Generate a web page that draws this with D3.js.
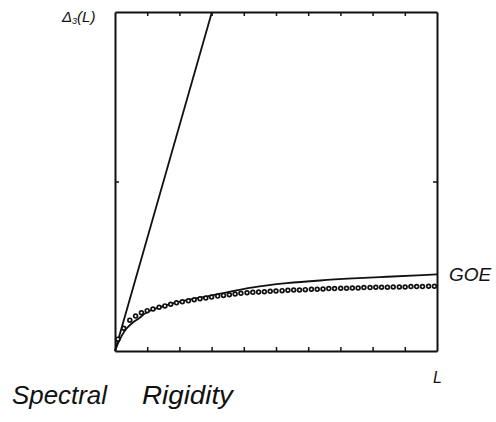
<!DOCTYPE html>
<html>
<head>
<meta charset="utf-8">
<script src="https://cdn.jsdelivr.net/npm/d3@7"></script>
<style>
  body { margin: 0; background: #fff; }
  text { font-family: "Liberation Sans", "DejaVu Sans", sans-serif; font-style: italic; fill: #111; }
</style>
</head>
<body>
<script>
var w = 496
var h = 422

// x ticks (unlabelled) and y tick
var xTicks = [1, 2, 3, 4, 5, 6, 7, 8, 9]
var yTicks = [0.5]

// Poisson straight line
var poissonL = [0, 3.01]
var poissonD = [0, 1]

// GOE solid curve
var goeL = [0, 0.115, 0.32, 0.53, 0.74, 0.94, 1.46, 1.98, 2.49, 3.01, 3.5, 4.29, 5.34, 6.37, 7.39, 8.45, 10]
var goeD = [0, 0.027, 0.062, 0.082, 0.096, 0.111, 0.131, 0.145, 0.155, 0.164, 0.174, 0.188, 0.200, 0.208, 0.214, 0.219, 0.226]

// data points (dots)
var dotL = [0.09, 0.27, 0.46, 0.64, 0.82, 1.00, 1.18, 1.37, 1.55, 1.73, 1.91, 2.09, 2.28, 2.46, 2.64, 2.82,
            3.00, 3.19, 3.37, 3.55, 3.73, 3.91, 4.10, 4.28, 4.46, 4.64, 4.82, 5.00, 5.19, 5.37, 5.55, 5.73,
            5.91, 6.10, 6.28, 6.46, 6.64, 6.82, 7.01, 7.19, 7.37, 7.55, 7.73, 7.92, 8.10, 8.28, 8.46, 8.64,
            8.83, 9.01, 9.19, 9.37, 9.55, 9.74, 9.92]
var dotD = [0.035, 0.067, 0.091, 0.103, 0.113, 0.119, 0.124, 0.129, 0.133, 0.138, 0.142, 0.145, 0.148, 0.151, 0.154, 0.156,
            0.159, 0.162, 0.164, 0.166, 0.168, 0.170, 0.172, 0.173, 0.174, 0.175, 0.176, 0.177, 0.178, 0.179, 0.180, 0.180,
            0.181, 0.182, 0.182, 0.183, 0.184, 0.184, 0.185, 0.185, 0.186, 0.186, 0.187, 0.187, 0.188, 0.188, 0.188, 0.189,
            0.189, 0.189, 0.190, 0.190, 0.190, 0.191, 0.191]

var plotLeft = 115, plotTop = 12, pw = 322, ph = 339

var svg = d3.select("body")
            .append("svg")
            .attr("width", w)
            .attr("height", h)

var x = d3.scaleLinear().domain([0, 10]).range([plotLeft, plotLeft + pw])
var y = d3.scaleLinear().domain([0, 1]).range([plotTop + ph, plotTop])

// frame: four axes with inward ticks, no labels
function styleAxis(g) {
  g.selectAll("path").attr("stroke", "#111").attr("stroke-width", 2)
  g.selectAll("line").attr("stroke", "#111").attr("stroke-width", 1.5)
  g.selectAll("text").remove()
}

svg.append("g")
  .attr("transform", "translate(0," + (plotTop + ph) + ")")
  .call(d3.axisBottom(x).tickValues(xTicks).tickSize(-4).tickSizeOuter(0).tickFormat(""))
  .call(styleAxis)

svg.append("g")
  .attr("transform", "translate(0," + plotTop + ")")
  .call(d3.axisTop(x).tickValues(xTicks).tickSize(-4).tickSizeOuter(0).tickFormat(""))
  .call(styleAxis)

svg.append("g")
  .attr("transform", "translate(" + plotLeft + ",0)")
  .call(d3.axisLeft(y).tickValues(yTicks).tickSize(-4).tickSizeOuter(0).tickFormat(""))
  .call(styleAxis)

svg.append("g")
  .attr("transform", "translate(" + (plotLeft + pw) + ",0)")
  .call(d3.axisRight(y).tickValues(yTicks).tickSize(-4).tickSizeOuter(0).tickFormat(""))
  .call(styleAxis)

var line = d3.line()
  .x(function(d) { return x(d[0]) })
  .y(function(d) { return y(d[1]) })

svg.append("path")
  .datum(d3.zip(poissonL, poissonD))
  .attr("d", line)
  .attr("fill", "none")
  .attr("stroke", "#111")
  .attr("stroke-width", 1.8)

svg.append("path")
  .datum(d3.zip(goeL, goeD))
  .attr("d", line.curve(d3.curveMonotoneX))
  .attr("fill", "none")
  .attr("stroke", "#111")
  .attr("stroke-width", 1.8)

svg.selectAll("circle")
  .data(d3.zip(dotL, dotD))
  .enter().append("circle")
  .attr("cx", function(d) { return x(d[0]) })
  .attr("cy", function(d) { return y(d[1]) })
  .attr("r", 1.9)
  .attr("fill", "#fff")
  .attr("stroke", "#111")
  .attr("stroke-width", 1.7)

// labels
var yl = svg.append("text")
  .attr("x", 62)
  .attr("y", 22)
  .attr("font-size", "15px")
yl.append("tspan").text("Δ")
yl.append("tspan").text("3").attr("font-size", "9px").attr("dy", 2)
yl.append("tspan").text("(L)").attr("dy", -2)

svg.append("text")
  .text("GOE")
  .attr("x", 449)
  .attr("y", 281)
  .attr("font-size", "19px")

svg.append("text")
  .text("L")
  .attr("x", 433)
  .attr("y", 383)
  .attr("font-size", "16px")

svg.append("text")
  .text("Spectral")
  .attr("x", 12)
  .attr("y", 404)
  .attr("font-size", "26px")
  .attr("textLength", 95)
  .attr("lengthAdjust", "spacingAndGlyphs")

svg.append("text")
  .text("Rigidity")
  .attr("x", 142)
  .attr("y", 404)
  .attr("font-size", "26px")
  .attr("textLength", 91)
  .attr("lengthAdjust", "spacingAndGlyphs")
</script>
</body>
</html>
